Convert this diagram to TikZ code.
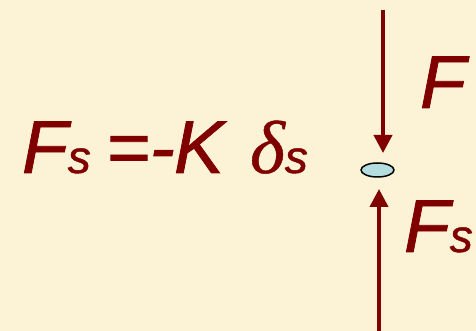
\documentclass[tikz,border=0pt]{standalone}
\usepackage{fontspec}
\setmainfont{Liberation Sans}
\newfontfamily\hvit{Liberation Sans Italic}[FakeBold=1]
\newfontfamily\serifit{Liberation Serif Italic}[FakeBold=0.6]
\usetikzlibrary{arrows.meta,shapes.geometric}
\definecolor{bgcream}{RGB}{252,242,214}
\definecolor{darkred}{RGB}{128,0,0}
\definecolor{ballcyan}{RGB}{180,221,224}
\newcommand{\bigF}{\fontsize{75}{75}\selectfont}
\newcommand{\smallS}{\fontsize{46}{46}\selectfont}
\tikzset{
  lbl/.style={inner sep=0pt, outer sep=0pt, anchor=base west, text=darkred, font=\bigF\hvit},
  force/.style={draw=darkred, line width=3.8pt, -{Triangle[width=18pt,length=18pt]}},
}
\begin{document}
\begin{tikzpicture}[x=1pt,y=1pt]
\fill[bgcream] (0,0) rectangle (476,331);
\useasboundingbox (0,0) rectangle (476,331);
% formula
\node[lbl] (fs) at (22,158) {F{\smallS s}};
\node[lbl] (eq) at (106,158) {=-};
\node[lbl] (kk) at (174,158) {K};
\node[lbl] (ds) at (250,158) {{\serifit\fontsize{75}{75}\selectfont δ}{\smallS s}};
% right side
\node[lbl] (fl) at (420,223) {F};
\node[lbl] (fsl) at (404,79) {F{\smallS s}};
\node[ellipse, draw=black, line width=1.5pt, fill=ballcyan, minimum width=33pt, minimum height=14pt, inner sep=0pt] (ball) at (377.5,161) {};
\coordinate (ftop) at (383,321);
\coordinate (ftip) at (383,178);
\coordinate (sbot) at (379,0);
\coordinate (stip) at (379,142);
\draw[force] (ftop) -- (ftip);
\draw[force] (sbot) -- (stip);
\end{tikzpicture}
\end{document}
